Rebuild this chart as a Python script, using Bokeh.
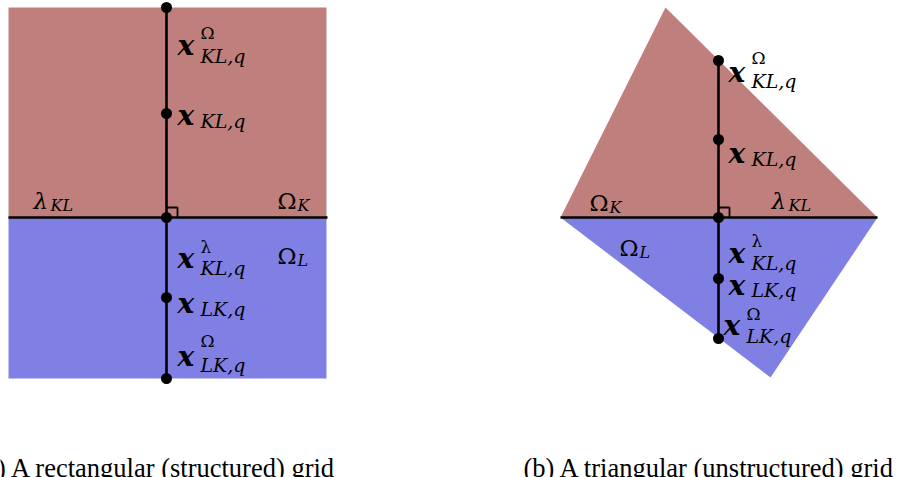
from bokeh.plotting import figure
from bokeh.models import Range1d
from bokeh.core.properties import value
from bokeh.embed import file_html
from bokeh.resources import INLINE

RED = "#bf807d"
BLUE = "#8080e4"
MATH_FONT = "DejaVu Serif"
CAP_FONT = "Liberation Serif"

# ---- panel (a): rectangular grid (page-pixel coordinates) ----
a_red_x = [8, 326, 326, 8]
a_red_y = [7, 7, 217, 217]
a_blue_x = [8, 326, 326, 8]
a_blue_y = [217, 217, 378, 378]
a_edge_x = [8, 327]
a_edge_y = [217, 217]
a_normal_x = [166, 166]
a_normal_y = [7, 378]
a_pts_x = [166, 166, 166, 166, 166]
a_pts_y = [7, 113, 217, 297, 378]
a_sq_x = [166, 177, 177]
a_sq_y = [207, 207, 217]

# ---- panel (b): triangular grid ----
b_red_x = [665, 560, 877]
b_red_y = [7, 217, 217]
b_blue_x = [560, 877, 770]
b_blue_y = [217, 217, 377]
b_edge_x = [560, 877]
b_edge_y = [217, 217]
b_normal_x = [718, 718]
b_normal_y = [60, 338]
b_pts_x = [718, 718, 718, 718, 718]
b_pts_y = [60, 139, 217, 278, 338]
b_sq_x = [718, 729, 729]
b_sq_y = [207, 207, 217]

# ---- point labels: bold x with super/subscripts ----
x_lbl_x = [177, 177, 177, 177, 177, 728, 728, 728, 728, 723]
x_lbl_y = [45, 115, 258, 303, 356, 72, 153, 253, 285, 325]
sup_txt = ["Ω", "", "λ", "", "Ω", "Ω", "", "λ", "", "Ω"]
sup_y = [32, 0, 246, 0, 340, 57, 0, 240, 0, 313]
sub_txt = ["KL,q", "KL,q", "KL,q", "LK,q", "LK,q", "KL,q", "KL,q", "KL,q", "LK,q", "LK,q"]
sub_y = [55, 120, 267, 308, 364, 80, 158, 262, 289, 335]

# ---- region / edge labels ----
g_txt = ["λ", "Ω", "Ω", "Ω", "λ", "Ω"]
g_sub = ["KL", "K", "L", "K", "KL", "L"]
g_x = [33, 277, 277, 589, 771, 619]
g_y = [200, 200, 255, 202, 200, 247]
g_italic = [True, False, False, False, True, False]

captions = ["(a) A rectangular (structured) grid", "(b) A triangular (unstructured) grid"]
cap_x = [-24, 523]
cap_y = [467, 467]

p = figure(width=904, height=477, output_backend="svg", toolbar_location=None,
           x_range=Range1d(0, 904), y_range=Range1d(477, 0), min_border=0)
p.axis.visible = False
p.grid.visible = False
p.outline_line_color = None
p.background_fill_color = "white"

# fills
p.patch(a_red_x, a_red_y, fill_color=RED, line_color=None)
p.patch(a_blue_x, a_blue_y, fill_color=BLUE, line_color=None)
p.patch(b_red_x, b_red_y, fill_color=RED, line_color=None)
p.patch(b_blue_x, b_blue_y, fill_color=BLUE, line_color=None)

# lines
for xs, ys in [(a_edge_x, a_edge_y), (a_normal_x, a_normal_y),
               (b_edge_x, b_edge_y), (b_normal_x, b_normal_y)]:
    p.line(xs, ys, line_color="black", line_width=2.6)
for xs, ys in [(a_sq_x, a_sq_y), (b_sq_x, b_sq_y)]:
    p.line(xs, ys, line_color="black", line_width=1.8)

# points
p.scatter(a_pts_x + b_pts_x, a_pts_y + b_pts_y, size=11, fill_color="black", line_color=None)

# bold x labels
p.text(x_lbl_x, x_lbl_y, text=["x"] * len(x_lbl_x), text_font=value(MATH_FONT),
       text_font_size=value("28px"), text_font_style="bold italic",
       text_baseline="alphabetic", text_align="left", text_color="black")
scr_x = [v + 23 for v in x_lbl_x]
sx = [scr_x[i] for i in range(len(sup_txt)) if sup_txt[i]]
sy = [sup_y[i] for i in range(len(sup_txt)) if sup_txt[i]]
st = [t for t in sup_txt if t]
p.text(sx, sy, text=st, text_font=value(MATH_FONT), text_font_size=value("17px"),
       text_baseline="alphabetic", text_align="left", text_color="black")
p.text(scr_x, sub_y, text=sub_txt, text_font=value(MATH_FONT), text_font_size=value("19px"),
       text_font_style="italic", text_baseline="alphabetic", text_align="left", text_color="black")

# greek region labels
for i in range(len(g_txt)):
    p.text([g_x[i]], [g_y[i]], text=[g_txt[i]], text_font=value(MATH_FONT),
           text_font_size=value("23px"), text_font_style="italic" if g_italic[i] else "normal",
           text_baseline="alphabetic", text_align="left", text_color="black")
sub_off = [17, 20, 20, 20, 17, 20]
p.text([g_x[i] + sub_off[i] for i in range(len(g_x))], [g_y[i] + 5 for i in range(len(g_y))],
       text=g_sub, text_font=value(MATH_FONT), text_font_size=value("16px"),
       text_font_style="italic", text_baseline="alphabetic", text_align="left", text_color="black")

# captions
p.text(cap_x, cap_y, text=captions, text_font=value(CAP_FONT), text_font_size=value("26.5px"),
       text_baseline="alphabetic", text_align="left", text_color="black")

open("out.html", "w").write(file_html(p, INLINE))
